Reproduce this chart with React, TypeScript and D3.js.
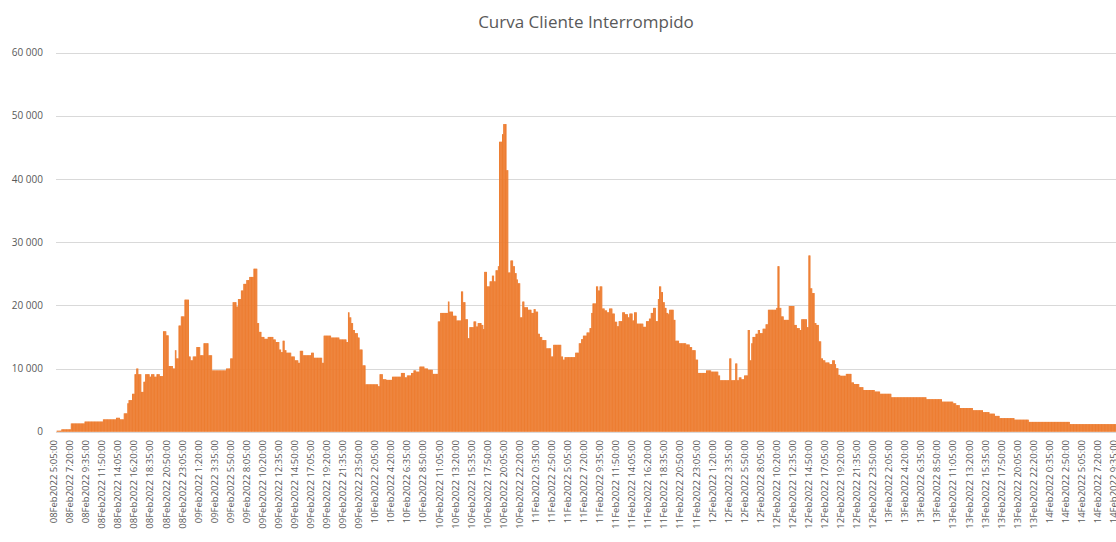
import * as d3 from 'd3';

// step data: value holds until category index stepEnds[k]
const stepEnds = [
  8, 24, 47, 78, 100, 106, 113, 119, 121, 127, 131, 134, 137, 142, 146, 149, 156, 159, 164, 168, 173, 179,
  184, 188, 195, 199, 201, 205, 209, 215, 222, 225, 229, 235, 241, 247, 255, 261, 285, 292, 296, 302,
  305, 310, 314, 319, 324, 331, 337, 340, 344, 349, 355, 364, 368, 374, 377, 380, 383, 386, 394, 400,
  406, 409, 414, 428, 432, 446, 449, 461, 475, 487, 490, 492, 495, 498, 501, 506, 509, 514, 519, 540,
  543, 548, 554, 564, 579, 585, 589, 596, 600, 604,
  610, 618, 624, 632, 641, 645, 658, 660, 666, 672, 680, 683, 687, 691, 694, 701, 705, 708, 714, 717,
  719, 723, 728, 732, 735, 738, 742, 744, 749, 751, 756, 759, 763, 767, 770, 773, 775, 779, 783, 786,
  792, 798, 802, 805, 809, 812, 816, 823, 831, 835, 848, 851, 854, 872, 878, 882, 885, 891, 896, 899,
  901, 907,
  910, 913, 917, 921, 925, 929, 934, 938, 942, 945, 951, 955, 960, 963, 968, 971, 975, 986, 991, 996,
  999, 1003, 1007, 1011, 1013, 1016, 1019, 1022, 1025, 1028, 1030, 1037, 1040, 1046, 1058, 1064, 1068,
  1074, 1078, 1092, 1100, 1112, 1115, 1131, 1134, 1141, 1144, 1147, 1151, 1156, 1162, 1165, 1168, 1170,
  1175, 1179, 1182, 1187, 1192, 1196, 1210,
  1212, 1215, 1218, 1222, 1231, 1240, 1244, 1249, 1252, 1261, 1264, 1267, 1270, 1274, 1277, 1281, 1285,
  1288, 1292, 1299, 1304, 1308, 1310, 1314, 1317, 1327, 1336, 1340, 1349, 1356, 1375, 1384, 1403, 1462,
  1488, 1507, 1512,
  1518, 1540, 1557, 1568, 1577, 1585, 1610, 1634, 1703, 1800,
];

const stepValues = [
  150, 370, 1300, 1600, 1950, 2200, 1950, 2900, 4500, 5000, 6000, 9100, 10000, 9100, 6300, 7900, 9100, 8700, 9100, 8700, 9100, 8800,
  15900, 15250, 10400, 10000, 12900, 11600, 16800, 18250, 20900, 11900, 11300, 11900, 13400, 12100, 14000, 12100, 9700, 10000, 11600, 20500,
  19800, 21000, 22350, 23400, 24000, 24500, 25800, 17200, 15800, 15000, 14700, 15000, 14600, 14200, 13000, 12600, 14400, 12900, 12500, 11900,
  11300, 10900, 12800, 12100, 12500, 11700, 10900, 15200, 14900, 14600, 14200, 18900, 18100, 17200, 16100, 15600, 14900, 13000, 10500, 7500,
  7200, 9100, 8300, 8200, 8700, 9300, 8600, 8900, 9300, 9700,
  9500, 10300, 10000, 9800, 9150, 17450, 18800, 20600, 19000, 18350, 17600, 22200, 20500, 17800, 14800, 16550, 17450, 16650, 17200, 16900,
  16250, 25300, 23000, 23800, 24700, 23800, 25550, 26200, 45900, 47100, 48700, 41400, 25200, 27100, 26200, 25100, 24100, 23500, 18100, 20600,
  19700, 19300, 18800, 19400, 19000, 15500, 15000, 14500, 13200, 11900, 13750, 11900, 11400, 11800, 12500, 14000, 14650, 15200, 15700, 16400,
  18800, 20300,
  23000, 22350, 23000, 19500, 19200, 18900, 19500, 18700, 17400, 16700, 17500, 18900, 18600, 18100, 18700, 17600, 18900, 17100, 16600, 17500,
  17900, 18800, 19600, 17500, 21000, 23000, 22100, 20500, 19600, 18800, 18600, 19300, 17700, 14400, 14000, 13800, 13400,
  12900, 11400, 9300, 9700, 9500, 8900, 8150, 11600, 8150, 10800, 8150, 8600, 8300, 8900, 16100, 11300, 14000,
  15000, 15500, 16100, 15600, 16300, 17000, 19300,
  19600, 26200, 19600, 18250, 17700, 19900, 16900, 16400, 16100, 17800, 16550, 27900, 22700, 21950, 17200, 16900, 14300,
  11600, 11300, 10950, 10700, 11300, 10700, 10050, 9000, 8850, 9150, 7800, 7550, 7050, 6600, 6350, 6000, 5450,
  5150, 4750, 4500,
  4200, 3750, 3400, 3100, 2850, 2500, 2150, 1900, 1550, 1200,
];

const START = Date.UTC(2022, 1, 8, 5, 5);
const N_CAT = 1800;
const LABEL_EVERY = 27;
const yTicks = [0, 10000, 20000, 30000, 40000, 50000, 60000];
const title = 'Curva Cliente Interrompido';

const fmtTime = d3.utcFormat('%d%b%Y %-H:%M:%S');
const categories = d3.range(N_CAT).map((i) => fmtTime(new Date(START + i * 5 * 60000)));
const values = categories.map((_, i) => stepValues[d3.bisectRight(stepEnds, i)]);

const W = 1116;
const H = 542;
const FONT = '"Open Sans", "Noto Sans", sans-serif';
const GREY = '#595959';

export default function App() {
  const x = d3
    .scaleBand<number>()
    .domain(d3.range(N_CAT))
    .range([56.5, 56.5 + N_CAT * 0.5948])
    .padding(0);
  const y = d3.scaleLinear().domain([0, 60000]).range([431.7, 52.7]);
  const bw = x.bandwidth();
  const fmtY = (v: number) => d3.format(',')(v).replace(/,/g, ' ');

  return (
    <svg
      width={W}
      height={H}
      style={{ position: 'absolute', left: 0, top: 0, background: '#fff' }}
      fontFamily={FONT}
    >
      <text x={586} y={28} textAnchor="middle" fontSize={17} fill={GREY}>
        {title}
      </text>

      {yTicks.map((t) => (
        <g key={t}>
          <line x1={56} x2={W + 20} y1={Math.round(y(t)) + 0.5} y2={Math.round(y(t)) + 0.5} stroke="#d9d9d9" strokeWidth={1} />
          <text x={43} y={y(t)} dy="0.35em" textAnchor="end" fontSize={10} fill={GREY}>
            {fmtY(t)}
          </text>
        </g>
      ))}

      <g fill="#ED7D31">
        {values.map((v, i) => (
          <rect key={i} x={x(i)} y={y(v)} width={bw + 0.4} height={y(0) - y(v)} />
        ))}
      </g>

      {categories.map((c, i) =>
        i % LABEL_EVERY === 0 ? (
          <text
            key={i}
            transform={`translate(${(x(i) as number) + bw / 2 - 3},440) rotate(-90)`}
            dy="0.35em"
            textAnchor="end"
            fontSize={9.5}
            fill={GREY}
          >
            {c}
          </text>
        ) : null
      )}
    </svg>
  );
}
